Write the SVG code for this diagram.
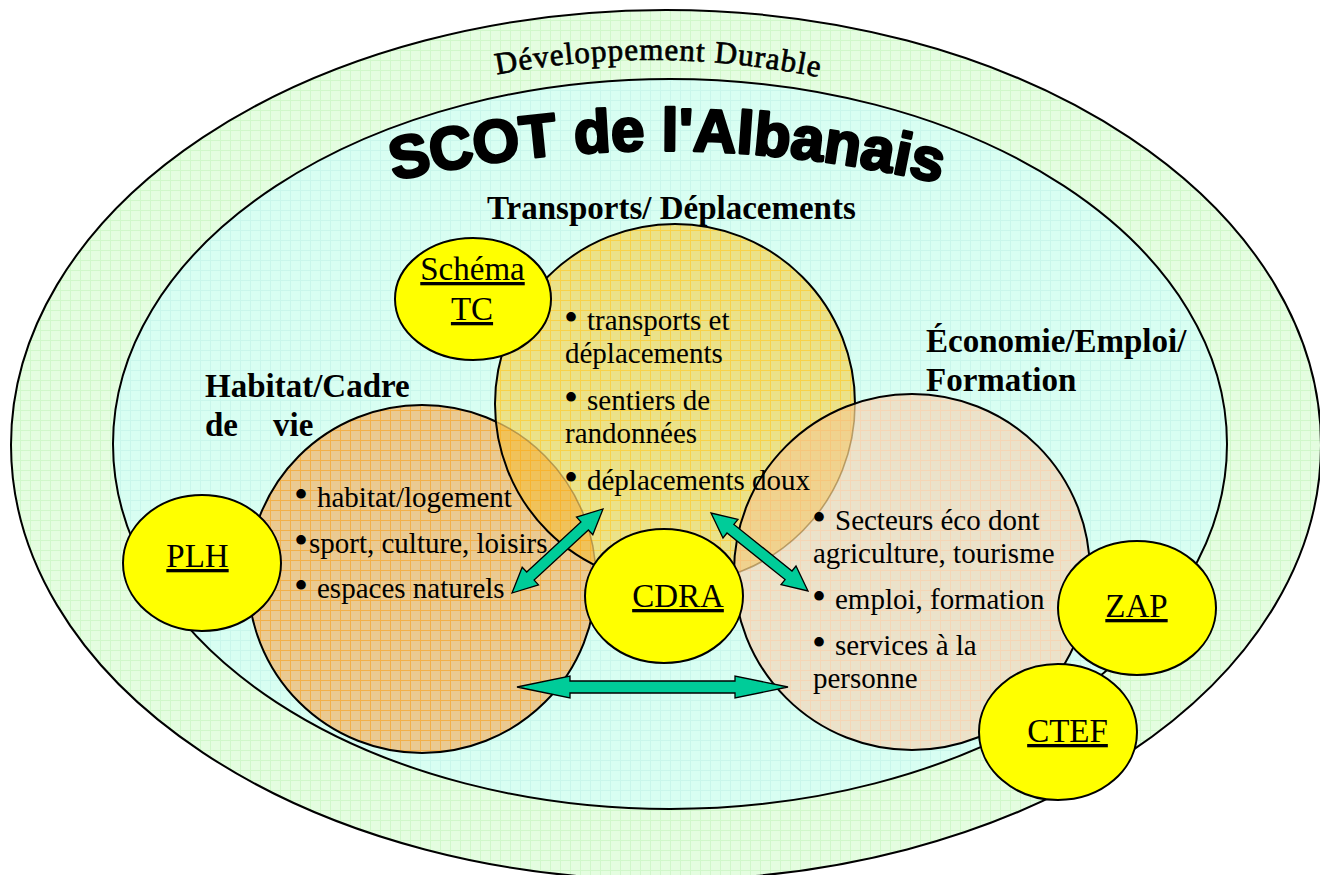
<svg xmlns="http://www.w3.org/2000/svg" width="1320" height="875" viewBox="0 0 1320 875">
<defs>
<style>
.ser{font-family:"Liberation Serif","Times New Roman",serif;fill:#000}
.body{font-size:29px}
.bul{font-size:40px}
.head{font-size:33px;font-weight:bold}
.lab{font-size:33px;text-decoration:underline;text-anchor:middle}
.yel{fill:#FFFF00;stroke:#000;stroke-width:2}
.arr{fill:#00CC99;stroke:#000;stroke-width:1.3;stroke-linejoin:miter}
.edge{fill:none;stroke:#000;stroke-width:2}
.faint{fill:none;stroke:#8a6a30;stroke-opacity:0.55;stroke-width:1.6}
</style>
<pattern id="pGreen" patternUnits="userSpaceOnUse" width="10" height="10"><rect width="10" height="10" fill="#E4FDE0"/><path d="M0 0.5H10M0.5 0V10" stroke="#D0F7CA" stroke-width="1"/></pattern>
<pattern id="pCyan" patternUnits="userSpaceOnUse" width="10" height="10"><rect width="10" height="10" fill="#D8FEF2"/><path d="M0 0.5H10M0.5 0V10" stroke="#C9F6EB" stroke-width="1"/></pattern>
<pattern id="pHab" patternUnits="userSpaceOnUse" width="10" height="10"><rect width="10" height="10" fill="#EACA92"/><path d="M0 0.5H10M0.5 0V10" stroke="#F2B04A" stroke-width="1"/></pattern>
<pattern id="pTra" patternUnits="userSpaceOnUse" width="10" height="10"><rect width="10" height="10" fill="#EBE289"/><path d="M0 0.5H10M0.5 0V10" stroke="#F8D24A" stroke-width="1"/></pattern>
<pattern id="pEco" patternUnits="userSpaceOnUse" width="10" height="10"><rect width="10" height="10" fill="#EBE2CA"/><path d="M0 0.5H10M0.5 0V10" stroke="#F5D6B6" stroke-width="1"/></pattern>
<pattern id="pHT" patternUnits="userSpaceOnUse" width="10" height="10"><rect width="10" height="10" fill="#F0C25A"/><path d="M0 0.5H10M0.5 0V10" stroke="#F8B430" stroke-width="1"/></pattern>
<pattern id="pTE" patternUnits="userSpaceOnUse" width="10" height="10"><rect width="10" height="10" fill="#F0D28E"/><path d="M0 0.5H10M0.5 0V10" stroke="#F6C67C" stroke-width="1"/></pattern>
<clipPath id="cTra"><circle cx="675" cy="404" r="180"/></clipPath>
<clipPath id="cEco"><circle cx="912" cy="572" r="178"/></clipPath>
<path id="arcDD" d="M 480 78 Q 660 40 840 82"/>
<path id="arcSC" d="M 360 189 Q 666 110 980 193"/>
</defs>

<g id="developpement-durable">
<ellipse cx="666" cy="445" rx="655" ry="435" fill="url(#pGreen)" stroke="#000" stroke-width="2"/>
<text class="ser" font-size="31" letter-spacing="1" stroke="#000" stroke-width="0.7"><textPath href="#arcDD" startOffset="49.5%" text-anchor="middle">Développement Durable</textPath></text>
</g>

<g id="scot">
<ellipse cx="670" cy="444" rx="557" ry="365" fill="url(#pCyan)" stroke="#000" stroke-width="2"/>
<text font-family="'Liberation Sans',Arial,sans-serif" font-size="60" font-weight="bold" fill="#000" stroke="#000" stroke-width="2.8" stroke-linejoin="round"><textPath href="#arcSC" startOffset="49.5%" text-anchor="middle">SCOT de l'Albanais</textPath></text>
</g>

<g id="habitat">
<circle cx="422" cy="579" r="174" fill="url(#pHab)" stroke="#000" stroke-width="2"/>
</g>

<g id="transports">
<circle cx="675" cy="404" r="180" fill="url(#pTra)"/>
<circle cx="422" cy="579" r="174" fill="url(#pHT)" clip-path="url(#cTra)"/>
<circle cx="422" cy="579" r="174" class="faint" clip-path="url(#cTra)"/>
<circle cx="675" cy="404" r="180" class="edge"/>
</g>

<g id="economie">
<circle cx="912" cy="572" r="178" fill="url(#pEco)"/>
<circle cx="675" cy="404" r="180" fill="url(#pTE)" clip-path="url(#cEco)"/>
<circle cx="675" cy="404" r="180" class="faint" clip-path="url(#cEco)"/>
<circle cx="912" cy="572" r="178" class="edge"/>
</g>

<g id="texts-habitat" class="ser">
<text class="head" x="205" y="397">Habitat/Cadre</text>
<text class="head" x="205" y="436">de</text>
<text class="head" x="273" y="436">vie</text>
<text class="bul" x="294" y="508">•</text>
<text class="body" x="317" y="507">habitat/logement</text>
<text class="bul" x="294" y="554">•</text>
<text class="body" x="309" y="553">sport, culture, loisirs</text>
<text class="bul" x="294" y="599">•</text>
<text class="body" x="317" y="598">espaces naturels</text>
</g>

<g id="texts-transports" class="ser">
<text class="head" x="487" y="219">Transports/ Déplacements</text>
<text class="bul" x="564" y="331">•</text>
<text class="body" x="587" y="330">transports et</text>
<text class="body" x="565" y="363">déplacements</text>
<text class="bul" x="564" y="411">•</text>
<text class="body" x="587" y="410">sentiers de</text>
<text class="body" x="565" y="443">randonnées</text>
<text class="bul" x="564" y="491">•</text>
<text class="body" x="587" y="490">déplacements doux</text>
</g>

<g id="texts-economie" class="ser">
<text class="head" x="926" y="352">Économie/Emploi/</text>
<text class="head" x="926" y="391">Formation</text>
<text class="bul" x="812" y="531">•</text>
<text class="body" x="835" y="530">Secteurs éco dont</text>
<text class="body" x="813" y="563">agriculture, tourisme</text>
<text class="bul" x="812" y="610">•</text>
<text class="body" x="835" y="609">emploi, formation</text>
<text class="bul" x="812" y="656">•</text>
<text class="body" x="835" y="655">services à la</text>
<text class="body" x="813" y="688">personne</text>
</g>

<g id="connectors">
<polygon class="arr" points="512,593 538.5,584.9 534.1,580.1 588.4,530 592.8,534.8 603,509 576.5,517.1 580.9,521.9 526.7,572 522.2,567.2"/>
<polygon class="arr" points="711,513 723,538 727,533 785.1,579.6 781,584.7 808,591 796,566 792,571 733.9,524.4 738,519.3"/>
<polygon class="arr" points="517,687 570,676 570,681 735,681 735,676 788,687 735,698 735,693 570,693 570,698"/>
</g>

<g id="schema-tc">
<ellipse class="yel" cx="473" cy="299" rx="78" ry="61"/>
<text class="ser lab" x="472.5" y="280">Schéma</text>
<text class="ser lab" x="472" y="320">TC</text>
</g>

<g id="plh">
<ellipse class="yel" cx="202" cy="563" rx="79" ry="68"/>
<text class="ser lab" x="197.5" y="567">PLH</text>
</g>

<g id="cdra">
<ellipse class="yel" cx="664" cy="596" rx="79" ry="67"/>
<text class="ser lab" x="678" y="607">CDRA</text>
</g>

<g id="zap">
<ellipse class="yel" cx="1137" cy="608" rx="79" ry="67"/>
<text class="ser lab" x="1136.5" y="617">ZAP</text>
</g>

<g id="ctef">
<ellipse class="yel" cx="1058" cy="732" rx="79" ry="68"/>
<text class="ser lab" x="1067.5" y="742">CTEF</text>
</g>
</svg>
